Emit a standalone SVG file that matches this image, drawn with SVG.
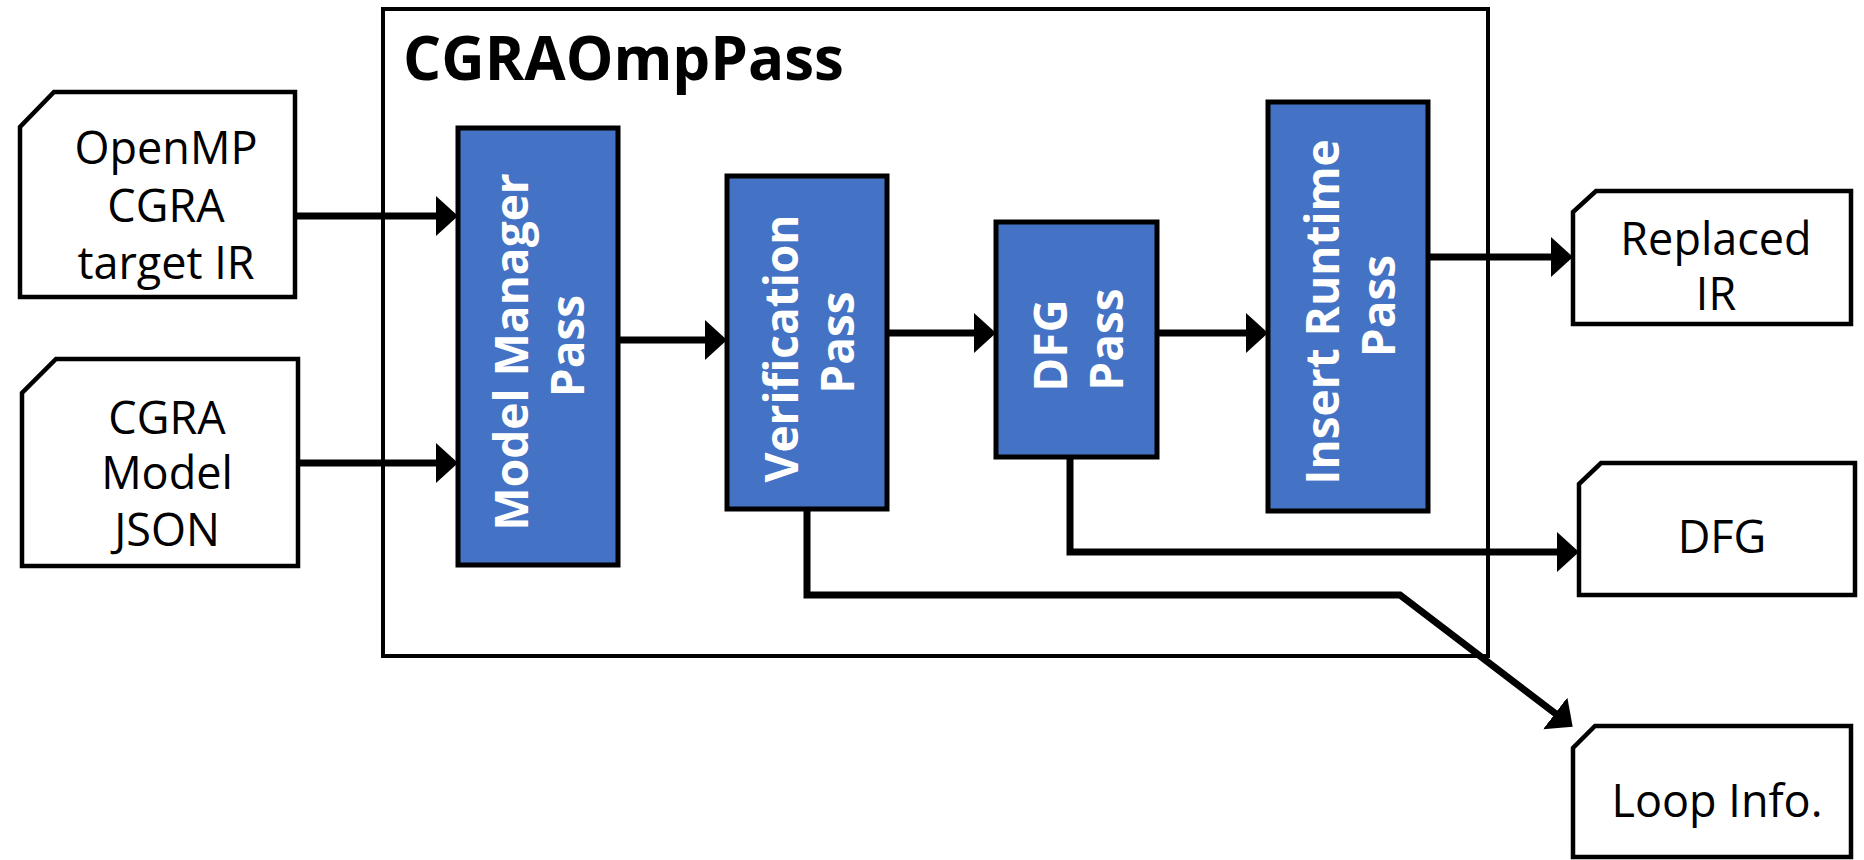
<svg xmlns="http://www.w3.org/2000/svg" width="1864" height="860" viewBox="0 0 1864 860">
  <style>
    .doc { fill: #ffffff; stroke: #000000; stroke-width: 4.5; stroke-linejoin: miter; }
    .pass { fill: #4472C4; stroke: #000000; stroke-width: 5; }
    .container { fill: #ffffff; stroke: #000000; stroke-width: 4; }
    .doctext { font-family: "Open Sans", "Noto Sans", sans-serif; font-size: 45px; fill: #000000; text-anchor: middle; }
    .passtext { font-family: "Open Sans", "Noto Sans", sans-serif; font-size: 46px; font-weight: bold; fill: #ffffff; text-anchor: middle; }
    .title { font-family: "Open Sans", "Noto Sans", sans-serif; font-size: 60px; font-weight: bold; fill: #000000; }
    .conn { fill: none; stroke: #000000; stroke-width: 7; stroke-linejoin: miter; stroke-linecap: butt; marker-end: url(#arrow); }
    .connplain { fill: none; stroke: #000000; stroke-width: 7; stroke-linejoin: miter; }
  </style>
  <defs>
    <marker id="arrow" viewBox="0 0 22 40" markerWidth="22" markerHeight="40" refX="1" refY="20" orient="auto" markerUnits="userSpaceOnUse">
      <path d="M0,0 L22,20 L0,40 Z" fill="#000000"/>
    </marker>
  </defs>

  <g id="container">
    <rect class="container" x="383" y="9" width="1105" height="647"/>
    <text class="title" x="403" y="80">CGRAOmpPass</text>
  </g>

  <g id="openmp-ir">
    <path class="doc" d="M54,92 H295 V297 H20 V127 Z"/>
    <text class="doctext" x="166" y="164">OpenMP</text>
    <text class="doctext" x="166" y="222">CGRA</text>
    <text class="doctext" x="166" y="279">target IR</text>
  </g>

  <g id="cgra-model-json">
    <path class="doc" d="M56,359 H298 V566 H22 V393 Z"/>
    <text class="doctext" x="167" y="434">CGRA</text>
    <text class="doctext" x="167" y="489">Model</text>
    <text class="doctext" x="167" y="546">JSON</text>
  </g>

  <g id="model-manager-pass">
    <rect class="pass" x="458" y="128" width="160" height="437"/>
    <text class="passtext" transform="translate(538,346) rotate(-90)">
      <tspan x="0" y="-10">Model Manager</tspan>
      <tspan x="0" y="46">Pass</tspan>
    </text>
  </g>

  <g id="verification-pass">
    <rect class="pass" x="727" y="176" width="160" height="333"/>
    <text class="passtext" transform="translate(807,342.5) rotate(-90)">
      <tspan x="0" y="-9.5">Verification</tspan>
      <tspan x="0" y="46.5">Pass</tspan>
    </text>
  </g>

  <g id="dfg-pass">
    <rect class="pass" x="996" y="222" width="161" height="235"/>
    <text class="passtext" transform="translate(1076.5,339.5) rotate(-90)">
      <tspan x="0" y="-9.5">DFG</tspan>
      <tspan x="0" y="46.5">Pass</tspan>
    </text>
  </g>

  <g id="insert-runtime-pass">
    <rect class="pass" x="1268" y="102" width="160" height="409"/>
    <text class="passtext" transform="translate(1348,306) rotate(-90)">
      <tspan x="0" y="-9.5">Insert Runtime</tspan>
      <tspan x="0" y="46.5">Pass</tspan>
    </text>
  </g>

  <g id="replaced-ir">
    <path class="doc" d="M1596,191 H1851 V324 H1573 V212 Z"/>
    <text class="doctext" x="1716" y="255">Replaced</text>
    <text class="doctext" x="1716" y="310">IR</text>
  </g>

  <g id="dfg-out">
    <path class="doc" d="M1601,463 H1855 V595 H1579 V484 Z"/>
    <text class="doctext" x="1722" y="553">DFG</text>
  </g>

  <g id="loop-info">
    <path class="doc" d="M1595,726 H1851 V857 H1573 V748 Z"/>
    <text class="doctext" x="1717" y="817">Loop Info.</text>
  </g>

  <g id="connectors">
    <path class="conn" d="M295,216 H437"/>
    <path class="conn" d="M298,463 H437"/>
    <path class="conn" d="M618,340 H706"/>
    <path class="conn" d="M887,333 H975"/>
    <path class="conn" d="M1157,333 H1247"/>
    <path class="conn" d="M1428,257 H1552"/>
    <path class="conn" d="M1070,457 V552 H1558"/>
    <path class="conn" d="M807,509 V595 H1400 L1556,714"/>
  </g>
</svg>
